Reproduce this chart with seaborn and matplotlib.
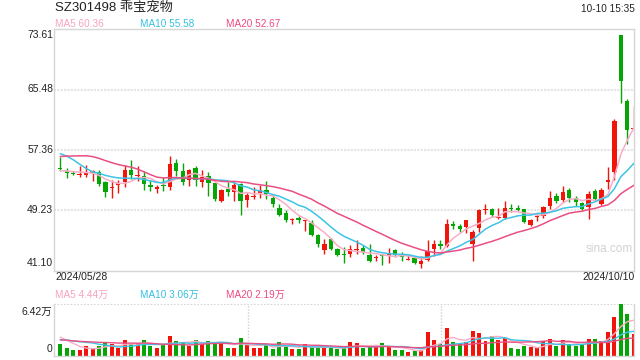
import matplotlib
matplotlib.use("Agg")
import matplotlib.pyplot as plt
import numpy as np
import pandas as pd
import seaborn as sns

# Data (price in yuan, volume in 万)
# closes / volumes of the 19 sessions before 2024/05/28, only to start the moving averages
pre_close = [53.5, 53.6, 53.8, 54.0, 56.5, 57.5, 57.8, 58.0, 58.1, 58.2,
             57.5, 59.0, 60.2, 59.8, 59.2, 54.5, 54.6, 54.4, 54.5]
pre_vol = [1.6, 2.2, 1.8, 2.0, 1.7, 2.1, 1.9, 2.0, 1.8, 1.9,
           1.5, 1.8, 1.6, 1.9, 1.7, 2.8, 2.6, 2.5, 2.2]

open_ = [54.85, 54.45, 54.31, 53.99, 53.99, 54.27, 54.36, 52.99, 52.18, 52.59,
         53.09, 54.59, 53.81, 53.86, 52.68, 52.04, 52.68, 52.31, 55.63, 54.45,
         53.31, 54.95, 53.07, 53.84, 52.84, 50.50, 52.08, 51.71, 52.75, 50.59,
         51.00, 51.58, 51.94, 50.90, 49.59, 48.91, 47.85, 48.20, 47.74, 47.56,
         45.84, 43.81, 45.39, 44.04, 43.22, 43.27, 43.90, 44.17, 43.13, 42.82,
         43.13, 43.04, 43.90, 43.36, 42.54, 42.77, 42.00, 42.45, 43.95, 44.62,
         44.35, 47.33, 47.06, 46.97, 44.71, 46.84, 49.32, 49.37, 48.15, 48.15,
         49.59, 49.55, 49.37, 47.20, 48.28, 48.46, 49.82, 51.17, 50.63, 51.89,
         50.81, 50.18, 49.68, 51.76, 50.04, 52.98, 54.33, 72.85, 63.91, 60.15]
high = [56.41, 54.95, 54.54, 55.18, 55.27, 54.59, 54.59, 53.13, 53.31, 53.31,
        55.27, 55.95, 55.13, 54.50, 53.31, 52.68, 53.68, 56.50, 56.18, 55.63,
        54.81, 55.13, 54.65, 54.33, 52.93, 52.08, 53.07, 53.07, 52.84, 51.49,
        52.30, 52.62, 53.16, 51.26, 50.13, 49.23, 48.24, 48.42, 47.97, 47.87,
        45.98, 45.39, 45.53, 44.17, 44.26, 44.49, 45.25, 44.49, 44.62, 43.22,
        43.36, 44.17, 44.04, 43.58, 43.13, 43.00, 42.99, 45.16, 45.16, 45.25,
        48.10, 47.78, 47.42, 47.97, 46.52, 49.46, 50.13, 49.59, 49.50, 50.50,
        50.13, 49.91, 49.46, 48.10, 48.69, 49.82, 51.76, 51.53, 52.44, 52.26,
        51.08, 50.36, 51.76, 52.08, 52.21, 55.00, 61.56, 72.85, 64.18, 63.30]
low = [54.45, 53.59, 53.99, 53.77, 53.68, 53.13, 52.54, 51.04, 50.81, 51.54,
       52.41, 53.45, 53.22, 51.95, 51.86, 51.50, 51.77, 51.95, 53.90, 52.68,
       52.50, 52.54, 52.39, 51.17, 50.50, 50.36, 51.17, 50.50, 48.55, 49.68,
       50.80, 50.90, 50.68, 49.68, 48.42, 47.65, 47.33, 47.51, 46.43, 45.75,
       44.26, 43.27, 43.81, 42.99, 42.09, 42.91, 43.36, 43.36, 42.23, 42.32,
       41.87, 42.09, 42.91, 42.36, 42.45, 41.91, 41.46, 42.36, 43.00, 44.04,
       44.26, 46.65, 46.29, 46.16, 42.36, 46.29, 48.78, 48.37, 48.01, 48.01,
       49.05, 49.09, 47.47, 47.11, 47.79, 48.24, 49.46, 50.18, 50.27, 50.36,
       49.82, 49.23, 48.10, 50.50, 49.95, 52.08, 53.34, 63.73, 58.17, 60.00]
close = [54.78, 54.31, 54.13, 54.13, 54.18, 54.45, 52.77, 51.63, 52.41, 52.95,
         54.59, 54.04, 53.90, 52.72, 52.40, 52.31, 52.54, 55.40, 54.50, 53.00,
         54.68, 53.36, 53.75, 52.93, 50.72, 51.94, 51.71, 52.62, 50.50, 51.26,
         51.10, 51.94, 51.40, 50.13, 48.64, 47.97, 47.98, 47.97, 47.87, 45.84,
         44.71, 44.71, 43.95, 43.13, 43.13, 44.04, 44.04, 43.63, 42.36, 42.91,
         43.08, 43.45, 43.22, 42.91, 42.68, 42.09, 42.36, 43.72, 44.71, 44.35,
         47.42, 47.10, 46.75, 47.87, 46.29, 49.23, 49.46, 48.55, 48.33, 49.50,
         49.41, 49.32, 47.70, 47.92, 48.46, 49.68, 50.81, 50.41, 51.62, 50.81,
         50.36, 49.37, 51.40, 50.72, 51.98, 53.30, 61.20, 66.62, 60.07, 60.25]
volume = [1.39, 0.89, 0.63, 0.63, 1.14, 0.97, 1.14, 1.56, 1.39, 0.93,
          1.90, 1.39, 1.56, 1.90, 1.14, 0.93, 1.31, 2.45, 1.77, 1.69,
          1.14, 1.90, 1.48, 1.77, 1.73, 1.39, 0.97, 0.97, 2.24, 1.27,
          0.97, 0.97, 1.27, 0.76, 1.69, 1.14, 0.84, 0.76, 1.39, 1.05,
          1.05, 0.93, 0.93, 0.76, 0.97, 1.69, 1.56, 0.93, 1.05, 1.05,
          1.56, 1.05, 0.63, 0.63, 0.42, 0.51, 0.63, 2.95, 1.90, 1.39,
          3.46, 1.69, 1.39, 1.69, 3.04, 2.83, 1.81, 2.41, 1.90, 2.19,
          0.93, 0.80, 1.14, 1.05, 0.93, 1.81, 2.03, 1.14, 1.90, 1.48,
          1.14, 1.27, 2.03, 2.03, 1.81, 2.95, 4.85, 6.42, 5.19, 2.66]

price_ticks = [73.61, 65.48, 57.36, 49.23, 41.10]
ma_labels = ["MA5 60.36", "MA10 55.58", "MA20 52.67"]
vol_labels = ["MA5 4.44万", "MA10 3.06万", "MA20 2.19万"]

RED = "#f0140a"
GREEN = "#06a506"
MA_COLORS = ["#f9adc6", "#3cc4e6", "#ea4f84"]
TEXT_MA = ["#f7a1c0", "#36c0df", "#ee4a7e"]
BORDER = "#d6d6d6"

sns.set_style("white")
plt.rcParams["font.family"] = ["Liberation Sans", "Noto Sans CJK SC", "DejaVu Sans"]

n = len(close)
idx = np.arange(n)
o = np.array(open_)
c = np.array(close)
colors = [RED if c[i] >= o[i] else GREEN for i in range(n)]

full_close = pd.Series(pre_close + close)
full_vol = pd.Series(pre_vol + volume)
ma_price = [full_close.rolling(w).mean().values[-n:] for w in (5, 10, 20)]
ma_vol = [full_vol.rolling(w).mean().values[-n:] for w in (5, 10, 20)]

W, H = 640, 360
fig = plt.figure(figsize=(6.4, 3.6), dpi=100)
left, right = 54.3, 634.0
ax = fig.add_axes([left / W, 1 - 270.5 / H, (right - left) / W, (270.5 - 29.4) / H])
vax = fig.add_axes([left / W, 1 - 355.5 / H, (right - left) / W, (355.5 - 304.3) / H])
xlim = (-0.93, 89.05)

# price pane
for v in price_ticks[1:-1]:
    ax.axhline(v, color="#e4e4e4", lw=1.5, ls=(0, (1, 0.6)), zorder=0)
ax.vlines(idx, low, high, colors=colors, lw=1.0, zorder=2)
body_lo = np.minimum(o, c)
body_h = np.maximum(np.abs(c - o), 0.14)
ax.bar(idx, body_h, bottom=body_lo, width=0.68, color=colors, linewidth=0, zorder=3)
for ma, col in zip(ma_price, MA_COLORS):
    sns.lineplot(x=idx, y=ma, ax=ax, color=col, linewidth=1.1, zorder=4)
ax.set_xlim(*xlim)
ax.set_ylim(price_ticks[-1], price_ticks[0])
ax.set_xticks([])
ax.set_yticks([])
for s in ax.spines.values():
    s.set_color(BORDER)
    s.set_linewidth(1)
ax.text(0.957, 0.088, "sina.com", transform=ax.transAxes, ha="center", va="center",
        fontsize=8.5, color="#d2d2d2")

# volume pane
vax.axhline(6.42, color="#d0d0d0", lw=1.2, ls=(0, (1, 1)), zorder=0)
third = (xlim[1] - xlim[0]) / 3
for k in (1, 2):
    vax.axvline(xlim[0] + k * third, color="#d0d0d0", lw=1.0, ls=(0, (1, 1.2)), zorder=0)
vax.bar(idx, volume, width=0.62, color=colors, linewidth=0, zorder=2)
for ma, col in zip(ma_vol, MA_COLORS):
    sns.lineplot(x=idx, y=ma, ax=vax, color=col, linewidth=1.0, zorder=3)
vax.set_xlim(*xlim)
vax.set_ylim(0, 6.42)
vax.set_xticks([])
vax.set_yticks([])
for name, s in vax.spines.items():
    s.set_color(BORDER)
    s.set_linewidth(1)
vax.spines["top"].set_visible(False)


def put(x, y, s, **kw):
    fig.text(x / W, 1 - y / H, s, va="center", **kw)


# header texts
put(55, 8, "SZ301498 乖宝宠物", fontsize=9.5, color="#222222")
put(635, 8.5, "10-10 15:35", fontsize=7.2, color="#222222", ha="right")
for xpos, lab, col in zip((55, 140.5, 225.5), ma_labels, TEXT_MA):
    put(xpos, 24, lab, fontsize=7.2, color=col)

# price axis labels
for v, ypix in zip(price_ticks, (35, 89, 150, 209.5, 263)):
    put(53, ypix, f"{v:.2f}", fontsize=7.5, color="#222222", ha="right")

# date labels
put(55, 277.5, "2024/05/28", fontsize=7.5, color="#222222")
put(634.5, 277.5, "2024/10/10", fontsize=7.5, color="#222222", ha="right")

# volume texts
for xpos, lab, col in zip((55, 140.5, 225.5), vol_labels, TEXT_MA):
    put(xpos, 295, lab, fontsize=7.2, color=col)
put(52, 311.5, "6.42万", fontsize=7.5, color="#222222", ha="right")
put(52, 348.5, "0", fontsize=7.5, color="#222222", ha="right")

fig.savefig("out.png", dpi=100)
